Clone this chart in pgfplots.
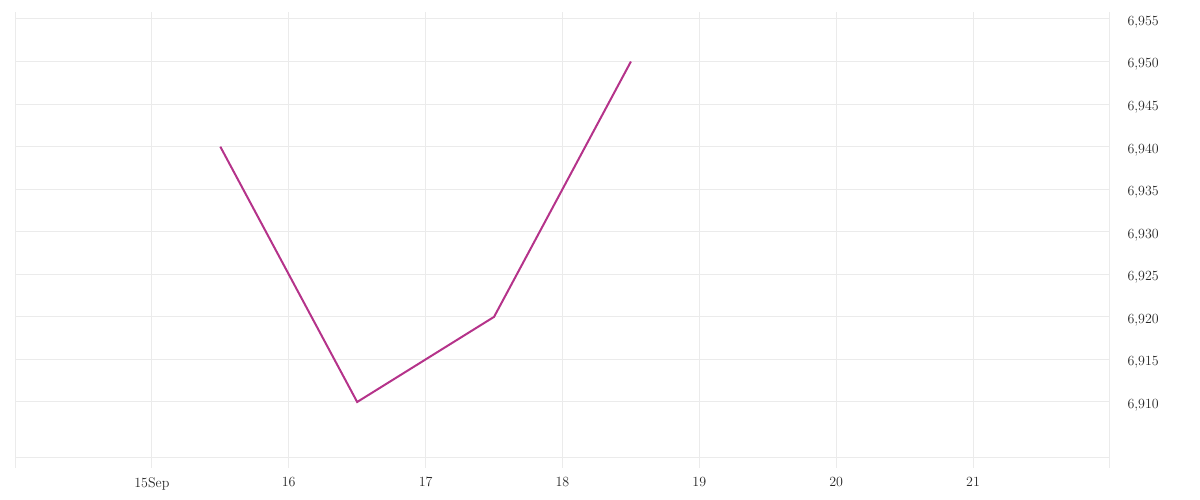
\documentclass[border=0pt]{standalone}
\usepackage{pgfplots}
\pgfplotsset{compat=1.18}
\definecolor{linecol}{HTML}{B5338A}
\definecolor{gridcol}{HTML}{EBEBEB}
\begin{document}
\begin{tikzpicture}
\begin{axis}[
  at={(15pt,42pt)}, anchor=south west,
  scale only axis, width=1095pt, height=446pt,
  xmin=14, xmax=22, ymin=6.90342, ymax=6.95582,
  axis line style={draw=none},
  xtick={14,15,16,17,18,19,20,21,22},
  xticklabels={,15Sep,16,17,18,19,20,21,},
  ytick={6.910,6.915,6.920,6.925,6.930,6.935,6.940,6.945,6.950,6.955},
  yticklabels={{6,910},{6,915},{6,920},{6,925},{6,930},{6,935},{6,940},{6,945},{6,950},{6,955}},
  yticklabel pos=right,
  xmajorgrids, ymajorgrids,
  major grid style={gridcol, line width=1pt},
  x tick style={gridcol, line width=1pt},
  xtick align=outside, xtick pos=bottom,
  major tick length=10pt,
  ytick style={draw=none},
  /pgf/number format/assume math mode=true,
  tick label style={font=\fontsize{14}{16}\selectfont, text=black!85},
  yticklabel style={anchor=west, xshift=14pt, yshift=-3pt},
  xticklabel style={yshift=-6pt},
  clip=false,
]
\draw[gridcol, line width=1pt] (axis cs:14,6.90342) -- (axis cs:22,6.90342);
\addplot[linecol, line width=2pt, mark=none] coordinates {
  (15.5,6.940) (16.5,6.910) (17.5,6.920) (18.5,6.950)
};
\end{axis}
\pgfresetboundingbox
\path (0,0) rectangle (1200pt,500pt);
\end{tikzpicture}
\end{document}
